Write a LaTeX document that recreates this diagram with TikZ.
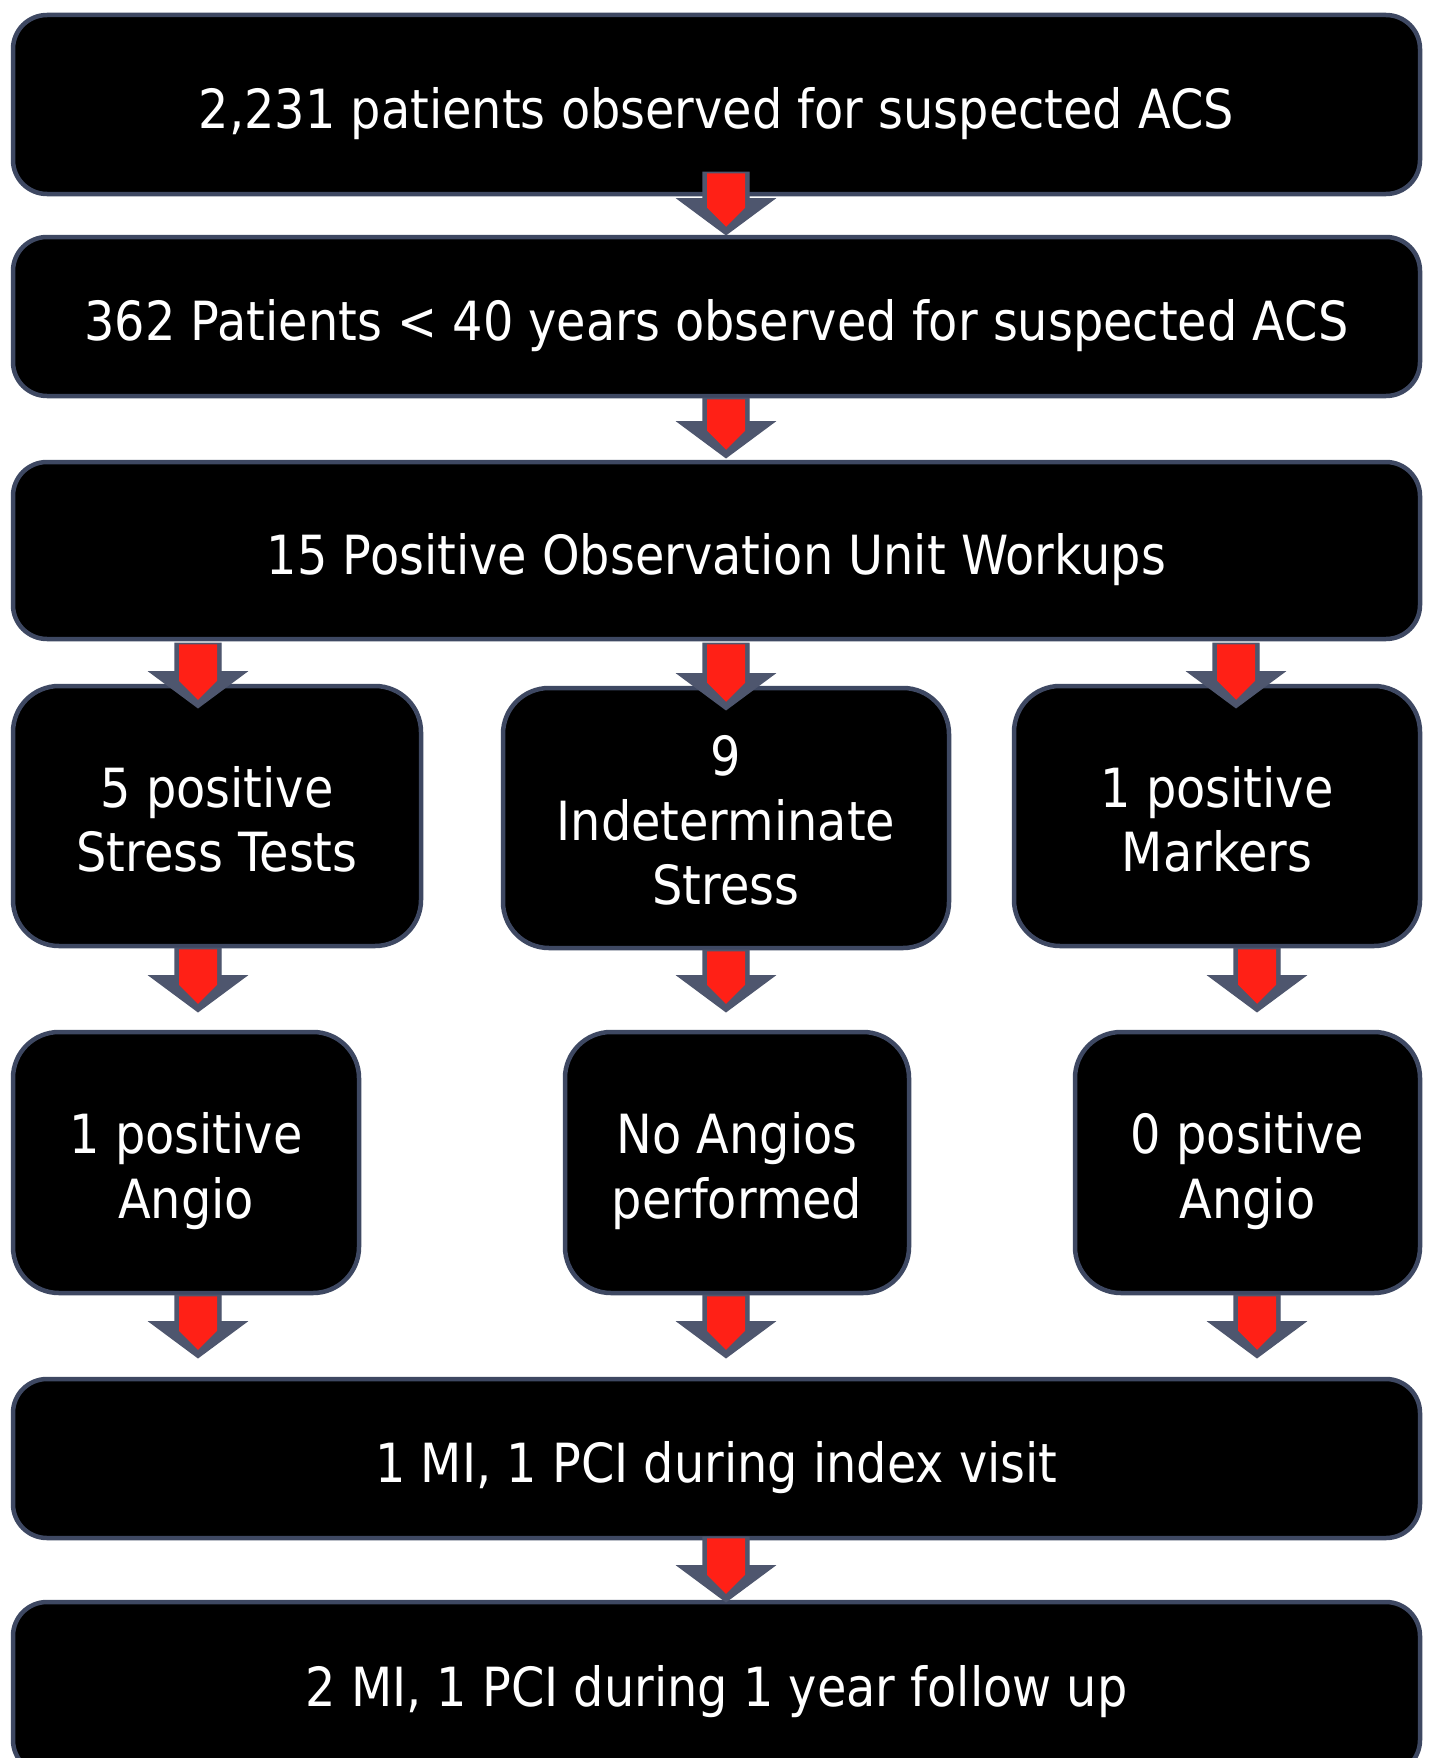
\documentclass[tikz,border=0pt]{standalone}
\usepackage{fontspec}
\setmainfont{DejaVu Sans}[FakeStretch=0.885]
\usetikzlibrary{calc}
\definecolor{slate}{RGB}{62,72,98}
\definecolor{arrowgray}{RGB}{78,86,110}
\definecolor{arrowred}{RGB}{255,32,22}
\newcommand\dropby[1]{\rule{0pt}{#1}}
\tikzset{
  box/.style={draw=slate, line width=4.5pt, fill=black, rounded corners=34pt,
    text=white, align=center, inner sep=0pt,
    font=\fontsize{54}{64.5}\selectfont},
  smallbox/.style={box, rounded corners=46pt},
  arrowback/.style={fill=arrowgray, draw=arrowgray, line width=1.2pt, line join=miter},
  arrowfront/.style={fill=arrowred},
}
\newcommand\blkarrow[2]{%
  \draw[arrowback] let \p1=#1, \p2=#2 in
    (\x1-23pt,\y1) -- (\x1+23pt,\y1) -- (\x1+23pt,\y2+36pt) -- (\x1+48.5pt,\y2+36pt)
    -- (\x1,\y2) -- (\x1-48.5pt,\y2+36pt) -- (\x1-23pt,\y2+36pt) -- cycle;
  \fill[arrowfront] let \p1=#1, \p2=#2 in
    (\x1-19pt,\y1-1pt) -- (\x1+19pt,\y1-1pt) -- (\x1+19pt,\y2+27pt)
    -- (\x1,\y2+8pt) -- (\x1-19pt,\y2+27pt) -- cycle;
}
\begin{document}
\begin{tikzpicture}[x=1pt,y=-1pt]
\useasboundingbox (0,0) rectangle (1440,1758);
\fill[white] (0,0) rectangle (1440,1758);
\clip (0,0) rectangle (1440,1758);

\coordinate (cL) at (198,0);
\coordinate (cM) at (726,0);
\coordinate (cR) at (1236,0);
\coordinate (cRR) at (1257,0);

\node[box, minimum width=1407pt, minimum height=179pt] (B1) at (716.5,104.5)
  {\dropby{59pt}2,231 patients observed for suspected ACS};
\node[box, minimum width=1407pt, minimum height=159pt] (B2) at (716.5,316.5)
  {\dropby{59pt}362 Patients < 40 years observed for suspected ACS};
\node[box, minimum width=1407pt, minimum height=177pt] (B3) at (716.5,550.5)
  {\dropby{59pt}15 Positive Observation Unit Workups};

\node[smallbox, minimum width=408pt, minimum height=260pt] (L4) at (217,816)
  {\dropby{48pt}5 positive\\Stress Tests};
\node[smallbox, minimum width=446pt, minimum height=260pt] (M4) at (726,818)
  {\dropby{45pt}9\\Indeterminate\\Stress};
\node[smallbox, minimum width=406pt, minimum height=260pt] (R4) at (1217,816)
  {\dropby{48pt}1 positive\\Markers};

\node[smallbox, minimum width=346pt, minimum height=261pt] (L5) at (186,1162.5)
  {\dropby{58pt}1 positive\\Angio};
\node[smallbox, minimum width=344pt, minimum height=261pt] (M5) at (737,1162.5)
  {\dropby{58pt}No Angios\\performed};
\node[smallbox, minimum width=345pt, minimum height=261pt] (R5) at (1247.5,1162.5)
  {\dropby{58pt}0 positive\\Angio};

\node[box, minimum width=1407pt, minimum height=159pt] (B6) at (716.5,1458.5)
  {\dropby{59pt}1 MI, 1 PCI during index visit};
\node[box, minimum width=1407pt, minimum height=172pt] (B7) at (716.5,1688)
  {\dropby{48pt}2 MI, 1 PCI during 1 year follow up};

\blkarrow{($(B1.south -| cM)+(0,-24)$)}{(B2.north -| cM)}
\blkarrow{(B2.south -| cM)}{($(B3.north -| cM)+(0,-2)$)}

\blkarrow{($(B3.south -| cL)+(0,2)$)}{($(L4.north -| cL)+(0,24)$)}
\blkarrow{($(B3.south -| cM)+(0,2)$)}{($(M4.north -| cM)+(0,24)$)}
\blkarrow{($(B3.south -| cR)+(0,2)$)}{($(R4.north -| cR)+(0,24)$)}

\blkarrow{(L4.south -| cL)}{($(L5.north -| cL)+(0,-18)$)}
\blkarrow{(M4.south -| cM)}{($(M5.north -| cM)+(0,-18)$)}
\blkarrow{(R4.south -| cRR)}{($(R5.north -| cRR)+(0,-18)$)}

\blkarrow{(L5.south -| cL)}{($(B6.north -| cL)+(0,-19)$)}
\blkarrow{(M5.south -| cM)}{($(B6.north -| cM)+(0,-19)$)}
\blkarrow{(R5.south -| cRR)}{($(B6.north -| cRR)+(0,-19)$)}

\blkarrow{($(B6.south -| cM)+(0,-3)$)}{($(B7.north -| cM)+(0,2)$)}
\end{tikzpicture}
\end{document}
